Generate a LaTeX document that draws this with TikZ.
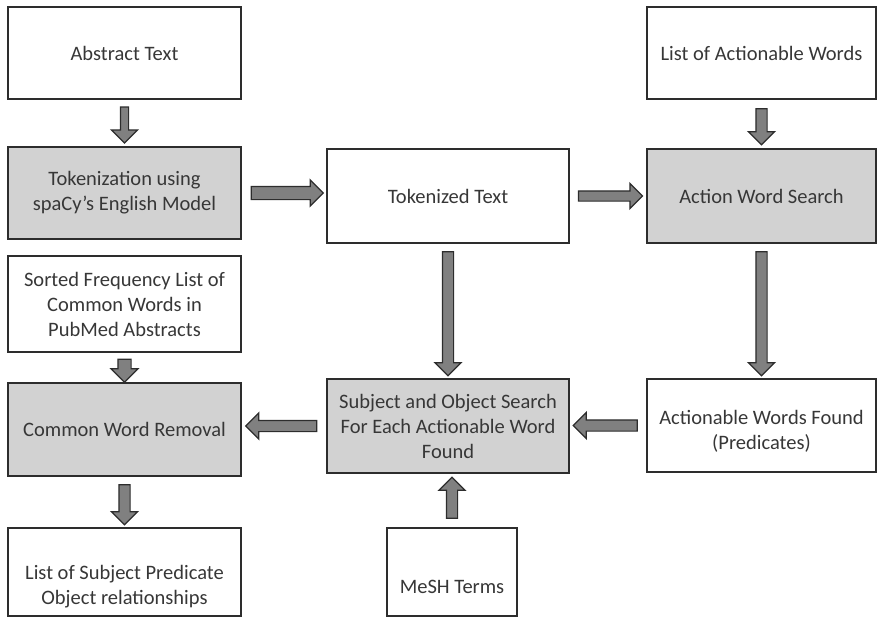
\documentclass[tikz,border=0pt]{standalone}
\usepackage{fontspec}
\setmainfont{Carlito}
\usetikzlibrary{shapes.arrows}

\definecolor{boxgray}{RGB}{210,210,210}
\definecolor{arrowgray}{RGB}{128,128,128}
\definecolor{edgegray}{RGB}{45,45,45}
\definecolor{textgray}{RGB}{55,55,55}

\begin{document}
\begin{tikzpicture}[x=1pt,y=-1pt,
  box/.style={rectangle,draw=edgegray,line width=1.8pt,minimum width=233pt,minimum height=92pt,
    align=center,text=textgray,font=\fontsize{20.5}{25}\selectfont},
  procbox/.style={box,fill=boxgray},
  flow/.style={single arrow,draw=edgegray,fill=arrowgray,line width=1.2pt,sloped,allow upside down,
    inner sep=0pt,text height=10pt,text depth=0pt,single arrow head extend=7.5pt}]

  \useasboundingbox (0,0) rectangle (878,622);

  % boxes
  \node[box] (abs) at (124.5,53) {Abstract Text};
  \node[box,minimum width=229pt] (law) at (761.5,53) {List of Actionable Words};
  \node[procbox] (tok) at (124.5,193) {Tokenization using\\spaCy's English Model};
  \node[box,minimum width=242pt,minimum height=94pt] (tokt) at (448,196) {Tokenized Text};
  \node[procbox,minimum width=229pt,minimum height=94pt] (aws) at (761.5,196) {Action Word Search};
  \node[box,minimum height=96pt] (freq) at (124.5,304) {Sorted Frequency List of\\Common Words in\\PubMed Abstracts};
  \node[procbox,minimum height=93pt] (cwr) at (124.5,429.5) {Common Word Removal};
  \node[procbox,minimum width=242pt,minimum height=94pt] (sos) at (448,426) {Subject and Object Search\\For Each Actionable Word\\Found};
  \node[box,minimum width=229pt,minimum height=93pt] (awf) at (761.5,425.5) {\mbox{}\\Actionable Words Found\\(Predicates)};
  \node[box,minimum height=88pt] (spo) at (124.5,572) {\mbox{}\\[18pt]List of Subject Predicate\\Object relationships};
  \node[box,minimum width=130pt,minimum height=88pt] (mesh) at (452,572) {\mbox{}\\[18pt]MeSH Terms};

  % block arrows
  \path (abs) -- node[flow,minimum height=36pt,text height=7pt,single arrow head extend=9pt] (a1) {} (tok);
  \path (law) -- node[flow,minimum height=36pt] (a2) {} (aws);
  \path (tok.east) -- node[flow,minimum height=72pt,text height=12pt,single arrow head extend=6.5pt] (a3) {} (tok.east -| tokt.west);
  \path (tokt.east) -- node[flow,minimum height=64pt,text height=9pt,single arrow head extend=7.5pt] (a4) {} (tokt.east -| aws.west);
  \path (tokt) -- node[flow,minimum height=124pt] (a5) {} (sos);
  \path (aws) -- node[flow,minimum height=124pt] (a6) {} (awf);
  \path (freq) -- node[flow,minimum height=23pt,text height=12pt,single arrow head extend=7pt] (a7) {} (cwr);
  \path (awf.west) -- node[flow,minimum height=64pt] (a8) {} (awf.west -| sos.east);
  \path (sos.west) -- node[flow,minimum height=71pt] (a9) {} (sos.west -| cwr.east);
  \path (cwr) -- node[flow,minimum height=40pt] (a10) {} (spo);
  \path (mesh.north) -- node[flow,minimum height=41pt] (a11) {} (mesh.north |- sos.south);

\end{tikzpicture}
\end{document}
